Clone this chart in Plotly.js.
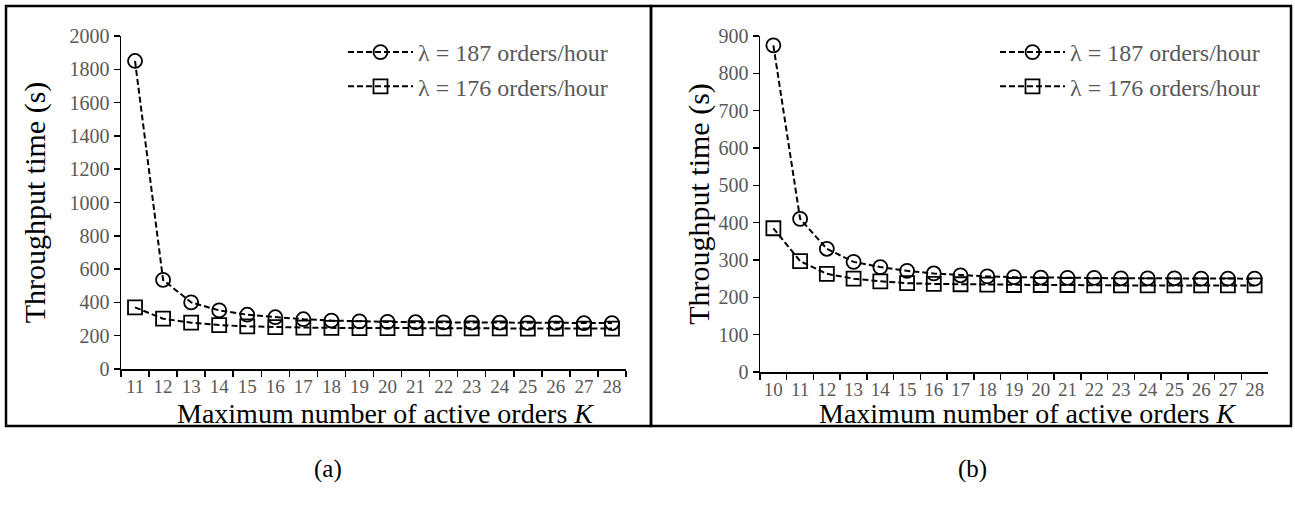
<!DOCTYPE html>
<html>
<head>
<meta charset="utf-8">
<script src="https://cdn.plot.ly/plotly-3.0.1.min.js"></script>
<style>
  html, body { margin: 0; padding: 0; background: #fff; }
  #chart { width: 1295px; height: 507px; }
</style>
</head>
<body>
<div id="chart"></div>
<script>
// Maximum number of active orders K
const kA = ['11','12','13','14','15','16','17','18','19','20','21','22','23','24','25','26','27','28'];
const kB = ['10','11','12','13','14','15','16','17','18','19','20','21','22','23','24','25','26','27','28'];

// Throughput time (s), panel (a)
const a187 = [1850, 535, 400, 352, 326, 311, 299, 291, 286, 283, 281, 280, 279, 278, 277, 277, 276, 276];
const a176 = [370, 302, 278, 264, 256, 251, 249, 247, 246, 245, 245, 244, 244, 244, 243, 243, 243, 243];

// Throughput time (s), panel (b)
const b187 = [875, 410, 330, 295, 281, 271, 264, 259, 256, 254, 253, 252, 252, 251, 251, 251, 250, 250, 250];
const b176 = [385, 297, 263, 250, 243, 238, 236, 235, 234, 233, 233, 233, 232, 232, 232, 232, 232, 232, 232];

const seriesNames = ['λ = 187 orders/hour', 'λ = 176 orders/hour'];
const xTitle = 'Maximum number of active orders <i>K</i>';
const yTitle = 'Throughput time (s)';
const panelLabels = ['(a)', '(b)'];

const serif = 'Liberation Serif';
const grey = '#595959';

function trace(x, y, name, symbol, xa, ya, legend) {
  return {
    x: x, y: y, name: name, type: 'scatter', mode: 'lines+markers',
    xaxis: xa, yaxis: ya, legend: legend,
    line: { color: '#000', width: 2, dash: '6px,3px' },
    marker: { symbol: symbol, size: 14, color: '#000', line: { color: '#000', width: 1.8 } },
    cliponaxis: false
  };
}

const data = [
  trace(kA, a187, seriesNames[0], 'circle-open', 'x', 'y', 'legend'),
  trace(kA, a176, seriesNames[1], 'square-open', 'x', 'y', 'legend'),
  trace(kB, b187, seriesNames[0], 'circle-open', 'x2', 'y2', 'legend2'),
  trace(kB, b176, seriesNames[1], 'square-open', 'x2', 'y2', 'legend2')
];

// Category axis with tick marks between the categories
function xAxis(domain, anchor, cats) {
  return {
    domain: domain, anchor: anchor, type: 'category', tickson: 'boundaries',
    categoryorder: 'array', categoryarray: cats,
    range: [-0.5, cats.length - 0.5], autorange: false,
    tickangle: 0,
    showline: true, linecolor: '#000', linewidth: 1.5,
    ticks: 'outside', ticklen: 6, tickwidth: 1.5, tickcolor: '#000',
    showgrid: false, zeroline: false, fixedrange: true,
    tickfont: { family: serif, size: 19, color: grey }
  };
}

function yAxis(domain, anchor, max, dtick, standoff) {
  return {
    domain: domain, anchor: anchor, range: [0, max], dtick: dtick,
    showline: true, linecolor: '#000', linewidth: 1.5,
    ticks: 'outside', ticklen: 6, tickwidth: 1.5, tickcolor: '#000',
    showgrid: false, zeroline: false, fixedrange: true,
    tickfont: { family: serif, size: 20, color: grey },
    title: { text: yTitle, standoff: standoff,
             font: { family: serif, size: 30, color: '#000' } }
  };
}

function legendBox(x, y) {
  return {
    x: x, y: y, xanchor: 'left', yanchor: 'top', bgcolor: 'rgba(0,0,0,0)',
    font: { family: serif, size: 24, color: grey }, itemwidth: 65,
    tracegroupgap: 0
  };
}

function label(text, x, y, size) {
  return {
    text: text, xref: 'paper', yref: 'paper', x: x / 1295, y: 1 - y / 507,
    xanchor: 'center', yanchor: 'middle', showarrow: false,
    font: { family: serif, size: size, color: '#000' }
  };
}

const layout = {
  width: 1295, height: 507,
  margin: { l: 0, r: 0, t: 0, b: 0 },
  paper_bgcolor: '#fff', plot_bgcolor: 'rgba(0,0,0,0)',
  showlegend: true,
  xaxis: xAxis([121 / 1295, 626 / 1295], 'y', kA),
  yaxis: yAxis([1 - 369 / 507, 1 - 36 / 507], 'x', 2000, 200, 15),
  xaxis2: xAxis([760 / 1295, 1268 / 1295], 'y2', kB),
  yaxis2: yAxis([1 - 372 / 507, 1 - 36 / 507], 'x2', 900, 100, 0),
  legend: legendBox(343 / 1295, 1 - 30 / 507),
  legend2: legendBox(995 / 1295, 1 - 30 / 507),
  shapes: [
    { type: 'rect', xref: 'paper', yref: 'paper', x0: 6 / 1295, x1: 651 / 1295,
      y0: 1 - 426 / 507, y1: 1 - 6 / 507, line: { color: '#000', width: 2.5 } },
    { type: 'rect', xref: 'paper', yref: 'paper', x0: 651 / 1295, x1: 1291 / 1295,
      y0: 1 - 426 / 507, y1: 1 - 6 / 507, line: { color: '#000', width: 2.5 } }
  ],
  annotations: [
    label(xTitle, 385, 413, 28),
    label(xTitle, 1027, 413, 28),
    label(panelLabels[0], 328, 469, 25),
    label(panelLabels[1], 972, 469, 25)
  ]
};

Plotly.newPlot('chart', data, layout, { staticPlot: true, displayModeBar: false });
</script>
</body>
</html>
